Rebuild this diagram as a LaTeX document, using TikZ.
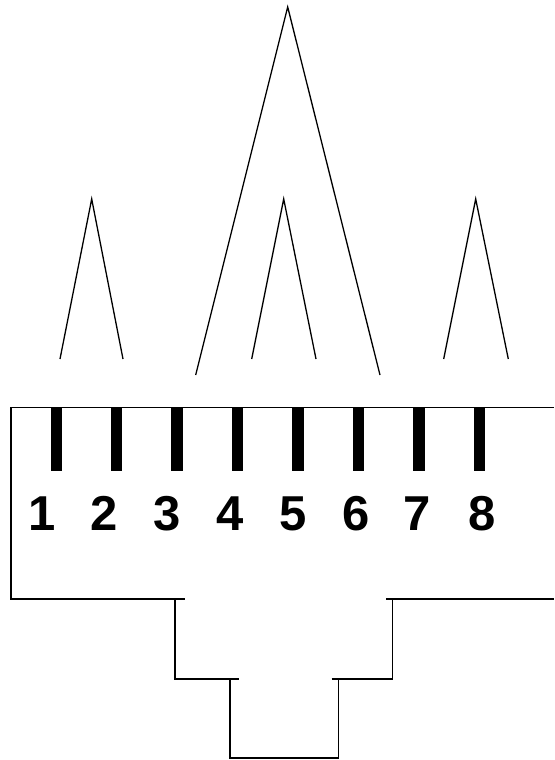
\documentclass[tikz,border=0pt]{standalone}
\usepackage{fontspec}
\setmainfont{Liberation Sans}
\begin{document}
\begin{tikzpicture}[x=1pt,y=-1pt,
  wire/.style={line width=1.3pt,line cap=butt,line join=miter},
  tick/.style={line width=2.2pt},
  pin/.style={fill=black,draw=none},
  num/.style={font=\fontsize{49}{49}\selectfont\bfseries,inner sep=0pt,anchor=base}]
\useasboundingbox (0,0) rectangle (554,760);
% pairs
\draw[wire] (60,359) -- (91.7,199) -- (123,359);
\draw[wire] (195.7,375) -- (287.7,7) -- (380,375);
\draw[wire] (251.7,359) -- (283.7,199) -- (316,359);
\draw[wire] (443.7,359) -- (475.7,199) -- (508.3,359);
% box outline
\draw[wire] (554,407.3) -- (11,407.3) -- (11,599) -- (175,599) -- (175,679) -- (230,679) -- (230,758) -- (338.3,758) -- (338.3,679) -- (392.3,679) -- (392.3,599) -- (554,599);
\draw[tick] (175,599) -- (185,599);
\draw[tick] (230,679) -- (239,679);
\draw[tick] (331.7,679) -- (338.3,679);
\draw[tick] (386,599) -- (392.3,599);
% pins
\foreach \c in {56.3,116.7,177,237.7,298,358.7,419,479.3}
  \fill[pin] (\c-5.6,407.3) rectangle (\c+5.6,471);
% numbers
\node[num] (n1) at (41.7,530.7) {1};
\node[num] (n2) at (104.3,530.7) {2};
\node[num] (n3) at (166.7,530.7) {3};
\node[num] (n4) at (230,530.7) {4};
\node[num] (n5) at (292.7,530.7) {5};
\node[num] (n6) at (356,530.7) {6};
\node[num] (n7) at (416.7,530.7) {7};
\node[num] (n8) at (481.7,530.7) {8};
\end{tikzpicture}
\end{document}
